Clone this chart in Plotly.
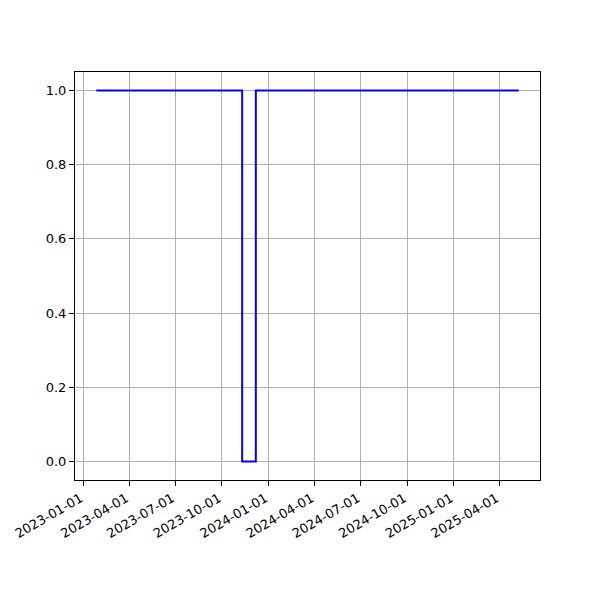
import plotly.graph_objects as go
from datetime import date, timedelta

dates = ["2023-01-26", "2023-11-10", "2023-12-07", "2025-05-09"]
values = [1, 0, 1, 1]
tick_dates = ["2023-01-01", "2023-04-01", "2023-07-01", "2023-10-01", "2024-01-01",
              "2024-04-01", "2024-07-01", "2024-10-01", "2025-01-01", "2025-04-01"]
y_ticks = [0.0, 0.2, 0.4, 0.6, 0.8, 1.0]

d0 = date.fromisoformat(dates[0])
d1 = date.fromisoformat(dates[-1])
span = (d1 - d0).days
xmin = d0 - timedelta(days=round(span * 0.05))
xmax = d1 + timedelta(days=round(span * 0.05))

fig = go.Figure()
fig.add_trace(go.Scatter(x=dates, y=values, mode="lines", line_shape="hv",
                         line=dict(color="#0000ff", width=2), showlegend=False))

axis_common = dict(showline=True, linecolor="black", linewidth=1, mirror=True,
                   showgrid=True, gridcolor="#b0b0b0", gridwidth=1,
                   ticks="outside", ticklen=5, tickcolor="black", zeroline=False,
                   automargin=False,
                   tickfont=dict(family="DejaVu Sans", size=13, color="black"))

fig.update_xaxes(range=[xmin.isoformat(), xmax.isoformat()], tickvals=tick_dates,
                 ticktext=tick_dates, tickangle=-30, ticklabelshift=-3, **axis_common)
fig.update_yaxes(range=[-0.05, 1.05], tickvals=y_ticks,
                 ticktext=[f"{v:.1f}" for v in y_ticks], **axis_common)

# page body has an 8px offset; margins compensate so the plot area sits at 75..540 x 72..480
fig.update_layout(width=600, height=600, plot_bgcolor="white", paper_bgcolor="white",
                  margin=dict(l=67, r=68, t=64, b=128),
                  font=dict(family="DejaVu Sans", size=13, color="black"))

fig.write_html("out.html")
